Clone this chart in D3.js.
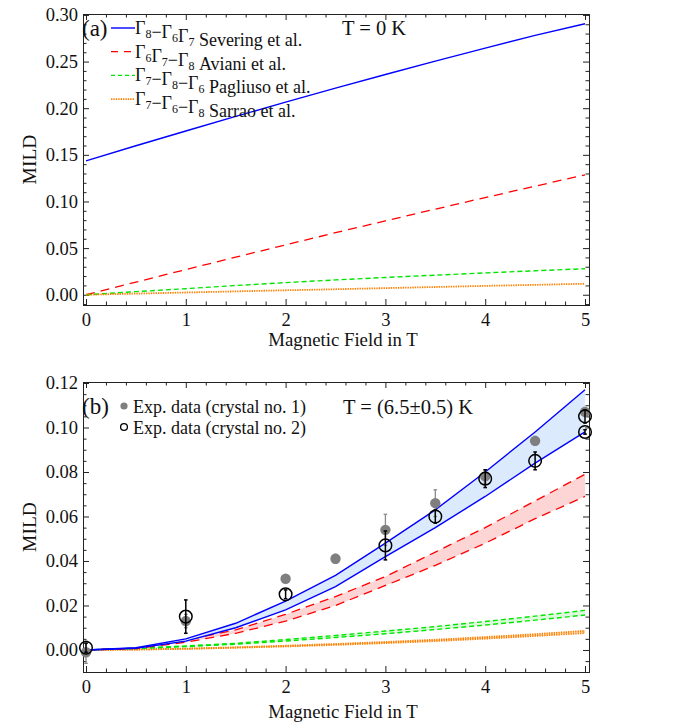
<!DOCTYPE html>
<html>
<head>
<meta charset="utf-8">
<script src="https://cdn.jsdelivr.net/npm/d3@7"></script>
<style>
  body { margin: 0; background: #fff; }
  svg, svg text, svg tspan { font-family: "Liberation Serif", "Times New Roman", Times, serif !important; }
  svg text { fill: #111; }
</style>
</head>
<body>
<script>
// field values (T) at which the curves were computed
var field = [0, 0.5, 1, 1.5, 2, 2.5, 3, 3.5, 4, 4.5, 5];

// panel (a): T = 0 K
var severingA = [0.1435, 0.1597, 0.1756, 0.1912, 0.2065, 0.2215, 0.2361, 0.2504, 0.2644, 0.2781, 0.2905];
var avianiA   = [0, 0.0135, 0.0270, 0.0403, 0.0535, 0.0665, 0.0792, 0.0918, 0.1042, 0.1164, 0.1285];
var pagliusoA = [0, 0.0033, 0.0065, 0.0099, 0.0130, 0.0159, 0.0185, 0.0210, 0.0234, 0.0257, 0.0279];
var sarraoA   = [0, 0.0012, 0.0024, 0.0036, 0.0048, 0.0059, 0.0071, 0.0083, 0.0095, 0.0106, 0.0118];

// panel (b): T = 6.5 +- 0.5 K, lower / upper curve of each band
var severingLoB = [0, 0.0008, 0.0040, 0.0100, 0.0180, 0.0285, 0.0420, 0.0550, 0.0690, 0.0840, 0.0980];
var severingHiB = [0, 0.0010, 0.0050, 0.0120, 0.0220, 0.0335, 0.0480, 0.0630, 0.0800, 0.0980, 0.1170];
var avianiLoB   = [0, 0.0006, 0.0035, 0.0075, 0.0130, 0.0200, 0.0290, 0.0380, 0.0480, 0.0590, 0.0690];
var avianiHiB   = [0, 0.0008, 0.0045, 0.0090, 0.0160, 0.0240, 0.0330, 0.0440, 0.0550, 0.0670, 0.0790];
var pagliusoLoB = [0, 0.0006, 0.0015, 0.0026, 0.0040, 0.0056, 0.0073, 0.0092, 0.0112, 0.0134, 0.0157];
var pagliusoHiB = [0, 0.0008, 0.0018, 0.0030, 0.0047, 0.0065, 0.0085, 0.0105, 0.0128, 0.0152, 0.0178];
var sarraoLoB   = [0, 0.0002, 0.0005, 0.0010, 0.0016, 0.0023, 0.0031, 0.0040, 0.0051, 0.0063, 0.0076];
var sarraoHiB   = [0, 0.0002, 0.0006, 0.0012, 0.0019, 0.0027, 0.0036, 0.0046, 0.0058, 0.0071, 0.0086];

// experimental points
var exp1Field = [0, 1, 2, 2.5, 3, 3.5, 4, 4.5, 5];
var exp1Mild  = [-0.001, 0.013, 0.032, 0.041, 0.054, 0.066, 0.078, 0.094, 0.107];
var exp1Err   = [0.005, 0.003, 0.001, 0.002, 0.007, 0.006, 0.003, 0.002, 0.002];
var exp2Field = [0, 1, 2, 3, 3.5, 4, 4.5, 5, 5];
var exp2Mild  = [0.001, 0.015, 0.025, 0.047, 0.060, 0.077, 0.085, 0.105, 0.098];
var exp2Err   = [0.002, 0.0075, 0.002, 0.0065, 0.003, 0.004, 0.004, 0.003, 0.001];

var legendA = ["Γ_8−Γ_6Γ_7 Severing et al.", "Γ_6Γ_7−Γ_8 Aviani et al.",
               "Γ_7−Γ_8−Γ_6 Pagliuso et al.", "Γ_7−Γ_6−Γ_8 Sarrao et al."];
var legendB = ["Exp. data (crystal no. 1)", "Exp. data (crystal no. 2)"];

var xTicks = [0, 1, 2, 3, 4, 5];
var yTicksA = [0, 0.05, 0.10, 0.15, 0.20, 0.25, 0.30];
var yTicksB = [0, 0.02, 0.04, 0.06, 0.08, 0.10, 0.12];

var serif = '"Liberation Serif", "Times New Roman", Times, serif';

var styles = [
  {color: "#0000ff", dash: null,    width: 1.4, band: "#dbeafc"},
  {color: "#ff0000", dash: "9,6",   width: 1.3, band: "#fdd5d5"},
  {color: "#00e600", dash: "5,3",   width: 1.4, band: "#ddfadd"},
  {color: "#ff8000", dash: "1.4,1", width: 1.8, band: "#fde3c8"}
];

var svg = d3.select("body").append("svg")
  .attr("width", 683).attr("height", 725)
  .style("font-family", serif);

function panel(opt) {
  var x = d3.scaleLinear().domain([-0.03, 5.04]).range([83, 589]);
  var y = d3.scaleLinear().domain(opt.yDomain).range([opt.bottom, opt.top]);
  var g = svg.append("g");

  g.append("clipPath").attr("id", opt.id)
    .append("rect").attr("x", 83).attr("y", opt.top)
    .attr("width", 506).attr("height", opt.bottom - opt.top);

  var xMinor = d3.range(0, 5.01, 0.2).filter(v => Math.abs(v - Math.round(v)) > 1e-6);
  var yMinor = d3.range(opt.minorStart, opt.yDomain[1], opt.minorStep)
    .filter(v => !opt.yTicks.some(t => Math.abs(t - v) < 1e-6));

  function axes(axisFn, scale, pos, major, minor, labels, fmt) {
    var a = axisFn(scale).tickValues(major).tickSize(-6).tickPadding(labels === "x" ? 8 : 5)
      .tickFormat(labels ? fmt : "");
    g.append("g").attr("transform", pos).call(a).attr("font-family", serif);
    g.append("g").attr("transform", pos)
      .call(axisFn(scale).tickValues(minor).tickSize(-3.5).tickFormat(""));
  }
  axes(d3.axisBottom, x, "translate(0," + opt.bottom + ")", xTicks, xMinor, "x", d3.format("d"));
  axes(d3.axisTop, x, "translate(0," + opt.top + ")", xTicks, xMinor, null);
  axes(d3.axisLeft, y, "translate(83,0)", opt.yTicks, yMinor, "y", d3.format(".2f"));
  axes(d3.axisRight, y, "translate(589,0)", opt.yTicks, yMinor, null);
  g.selectAll(".domain").attr("stroke", "#222");
  g.selectAll(".tick line").attr("stroke", "#222");
  g.selectAll(".tick text").attr("font-size", 18.5)
    .style("font-family", serif).attr("fill", "#111");

  g.append("text").attr("transform", "translate(36," + ((opt.top + opt.bottom) / 2) + ") rotate(-90)")
    .attr("text-anchor", "middle").attr("font-size", 19.5).text("MILD");
  g.append("text").attr("x", 343).attr("y", opt.bottom + opt.titleGap)
    .attr("text-anchor", "middle").attr("font-size", 18.8).text("Magnetic Field in T");

  var plot = g.append("g").attr("clip-path", "url(#" + opt.id + ")");
  return {x: x, y: y, g: g, plot: plot};
}

// ---------- panel (a)
var pa = panel({id: "clipA", top: 14, bottom: 305, yDomain: [-0.011, 0.301],
  yTicks: yTicksA, minorStart: -0.01, minorStep: 0.01, titleGap: 41});

var lineA = d3.line().x((d, i) => pa.x(field[i])).y(d => pa.y(d));
[severingA, avianiA, pagliusoA, sarraoA].forEach(function (s, k) {
  pa.plot.append("path").attr("d", lineA(s)).attr("fill", "none")
    .attr("stroke", styles[k].color).attr("stroke-width", styles[k].width)
    .attr("stroke-dasharray", styles[k].dash);
});

function gammaText(sel, str) {
  str.split(/(_\d)/).forEach(function (part) {
    if (part[0] === "_") {
      sel.append("tspan").attr("font-size", 12).attr("dy", 4).text(part.slice(1));
      sel.append("tspan").attr("dy", -4).text("");
    } else {
      sel.append("tspan").text(part);
    }
  });
}

pa.g.append("text").attr("x", 82).attr("y", 36).attr("font-size", 23).text("(a)");
legendA.forEach(function (lab, k) {
  var yy = 28 + k * 23.7;
  pa.g.append("line").attr("x1", 111).attr("x2", 135).attr("y1", yy).attr("y2", yy)
    .attr("stroke", styles[k].color).attr("stroke-width", styles[k].width)
    .attr("stroke-dasharray", k === 1 ? "7,6" : k === 2 ? "4,3" : styles[k].dash);
  var t = pa.g.append("text").attr("x", 135).attr("y", yy + 6).attr("font-size", 18);
  gammaText(t, lab);
});
pa.g.append("text").attr("x", 342).attr("y", 35).attr("font-size", 20.5).text("T = 0 K");

// ---------- panel (b)
var pb = panel({id: "clipB", top: 382, bottom: 672, yDomain: [-0.0099, 0.12045],
  yTicks: yTicksB, minorStart: -0.005, minorStep: 0.005, titleGap: 46});

var bands = [[severingLoB, severingHiB], [avianiLoB, avianiHiB],
             [pagliusoLoB, pagliusoHiB], [sarraoLoB, sarraoHiB]];
var area = d3.area().x(d => pb.x(d.f)).y0(d => pb.y(d.lo)).y1(d => pb.y(d.hi));
var lineB = d3.line().x((d, i) => pb.x(field[i])).y(d => pb.y(d));
bands.slice().reverse().forEach(function (b, r) {
  var k = bands.length - 1 - r;
  var rows = field.map((f, i) => ({f: f, lo: b[0][i], hi: b[1][i]}));
  pb.plot.append("path").attr("d", area(rows)).attr("fill", styles[k].band);
  b.forEach(function (s) {
    pb.plot.append("path").attr("d", lineB(s)).attr("fill", "none")
      .attr("stroke", styles[k].color).attr("stroke-width", styles[k].width)
      .attr("stroke-dasharray", styles[k].dash);
  });
});

function errorBars(fs, ms, es, color, w) {
  fs.forEach(function (f, i) {
    var cx = pb.x(f), y0 = pb.y(ms[i] - es[i]), y1 = pb.y(ms[i] + es[i]);
    pb.g.append("line").attr("x1", cx).attr("x2", cx).attr("y1", y0).attr("y2", y1)
      .attr("stroke", color).attr("stroke-width", w);
    [y0, y1].forEach(yy => pb.g.append("line").attr("x1", cx - 1.8).attr("x2", cx + 1.8)
      .attr("y1", yy).attr("y2", yy).attr("stroke", color).attr("stroke-width", w));
  });
}
errorBars(exp1Field, exp1Mild, exp1Err, "#8a8a8a", 1.3);
pb.g.selectAll(null).data(exp1Field).enter().append("circle")
  .attr("cx", d => pb.x(d)).attr("cy", (d, i) => pb.y(exp1Mild[i])).attr("r", 5.2)
  .attr("fill", "#7f7f7f");
errorBars(exp2Field, exp2Mild, exp2Err, "#000", 1.5);
pb.g.selectAll(null).data(exp2Field).enter().append("circle")
  .attr("cx", d => pb.x(d)).attr("cy", (d, i) => pb.y(exp2Mild[i])).attr("r", 6.3)
  .attr("fill", "none").attr("stroke", "#000").attr("stroke-width", 1.5);

pb.g.append("text").attr("x", 82).attr("y", 414).attr("font-size", 23).text("(b)");
pb.g.append("circle").attr("cx", 124).attr("cy", 406).attr("r", 3.6).attr("fill", "#7f7f7f");
pb.g.append("circle").attr("cx", 124).attr("cy", 427).attr("r", 3.4)
  .attr("fill", "none").attr("stroke", "#000").attr("stroke-width", 1.3);
legendB.forEach(function (lab, k) {
  pb.g.append("text").attr("x", 133).attr("y", 413 + k * 21).attr("font-size", 18).text(lab);
});
pb.g.append("text").attr("x", 343).attr("y", 414).attr("font-size", 20.5).text("T = (6.5±0.5) K");
</script>
</body>
</html>
